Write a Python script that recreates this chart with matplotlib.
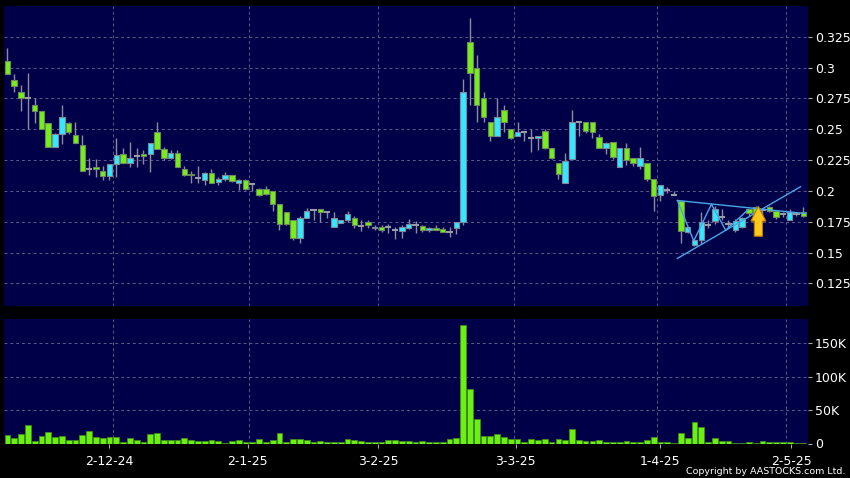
import numpy as np
import matplotlib
matplotlib.use("Agg")
import matplotlib.pyplot as plt
from matplotlib.patches import FancyArrow

# OHLC (one entry per trading day)
opens = [0.305, 0.290, 0.280, 0.275, 0.270, 0.265, 0.255, 0.236, 0.246, 0.255,
         0.245, 0.237, 0.218, 0.219, 0.216, 0.212, 0.222, 0.230, 0.223, 0.228,
         0.230, 0.230, 0.248, 0.234, 0.227, 0.231, 0.218, 0.214, 0.2105, 0.209,
         0.2145, 0.207, 0.210, 0.2125, 0.206, 0.209, 0.2055, 0.2015, 0.2015, 0.200,
         0.189, 0.1825, 0.176, 0.162, 0.178, 0.1845, 0.185, 0.183, 0.171, 0.174,
         0.176, 0.178, 0.1715, 0.175, 0.170, 0.171, 0.1705, 0.168, 0.1675, 0.170,
         0.1725, 0.1715, 0.168, 0.170, 0.169, 0.167, 0.170, 0.1745, 0.3205, 0.300,
         0.275, 0.2555, 0.2445, 0.2655, 0.250, 0.2445, 0.2475, 0.243, 0.2425, 0.2485,
         0.2345, 0.223, 0.206, 0.226, 0.2555, 0.2555, 0.2555, 0.2435, 0.2345, 0.240,
         0.219, 0.2345, 0.227, 0.220, 0.223, 0.210, 0.197, 0.201, 0.197, 0.192,
         0.167, 0.156, 0.160, 0.172, 0.1755, 0.179, 0.1735, 0.168, 0.1705, 0.185,
         0.187, 0.1845, 0.187, 0.1835, 0.1815, 0.1765, 0.1815, 0.1825]
highs = [0.316, 0.295, 0.286, 0.296, 0.275, 0.265, 0.255, 0.247, 0.270, 0.256,
         0.256, 0.245, 0.227, 0.226, 0.220, 0.222, 0.243, 0.235, 0.240, 0.235,
         0.233, 0.239, 0.256, 0.236, 0.233, 0.233, 0.220, 0.216, 0.220, 0.215,
         0.2175, 0.211, 0.215, 0.213, 0.210, 0.210, 0.206, 0.202, 0.204, 0.200,
         0.189, 0.183, 0.176, 0.180, 0.1865, 0.1855, 0.1855, 0.184, 0.1825, 0.176,
         0.1835, 0.180, 0.176, 0.176, 0.172, 0.172, 0.173, 0.171, 0.172, 0.1775,
         0.1755, 0.172, 0.171, 0.172, 0.171, 0.1705, 0.175, 0.291, 0.340, 0.310,
         0.280, 0.2555, 0.275, 0.270, 0.250, 0.2555, 0.2475, 0.250, 0.2445, 0.250,
         0.2345, 0.223, 0.231, 0.2655, 0.2555, 0.2555, 0.2555, 0.246, 0.240, 0.240,
         0.2345, 0.2385, 0.227, 0.236, 0.223, 0.210, 0.2045, 0.203, 0.200, 0.192,
         0.1705, 0.160, 0.183, 0.176, 0.188, 0.185, 0.176, 0.177, 0.179, 0.1855,
         0.188, 0.185, 0.188, 0.184, 0.183, 0.185, 0.183, 0.187]
lows = [0.295, 0.280, 0.265, 0.250, 0.255, 0.250, 0.236, 0.236, 0.238, 0.246,
        0.239, 0.216, 0.213, 0.211, 0.209, 0.209, 0.211, 0.223, 0.219, 0.219,
        0.222, 0.215, 0.234, 0.225, 0.226, 0.219, 0.212, 0.206, 0.206, 0.205,
        0.206, 0.205, 0.208, 0.207, 0.2005, 0.201, 0.1995, 0.196, 0.197, 0.184,
        0.168, 0.172, 0.160, 0.158, 0.178, 0.176, 0.1745, 0.178, 0.171, 0.174,
        0.175, 0.170, 0.1675, 0.170, 0.168, 0.167, 0.166, 0.161, 0.162, 0.169,
        0.166, 0.167, 0.167, 0.168, 0.1665, 0.1625, 0.165, 0.172, 0.270, 0.2555,
        0.2555, 0.2405, 0.2445, 0.248, 0.242, 0.2445, 0.2405, 0.2315, 0.233, 0.234,
        0.2255, 0.2095, 0.206, 0.226, 0.2445, 0.247, 0.243, 0.2345, 0.230, 0.226,
        0.219, 0.221, 0.220, 0.218, 0.208, 0.1835, 0.192, 0.198, 0.1965, 0.158,
        0.166, 0.155, 0.157, 0.170, 0.173, 0.176, 0.170, 0.167, 0.170, 0.180,
        0.176, 0.176, 0.183, 0.177, 0.179, 0.1765, 0.180, 0.179]
closes = [0.295, 0.285, 0.275, 0.275, 0.265, 0.250, 0.236, 0.246, 0.260, 0.248,
          0.239, 0.216, 0.218, 0.218, 0.212, 0.222, 0.229, 0.223, 0.227, 0.228,
          0.228, 0.239, 0.234, 0.227, 0.231, 0.219, 0.213, 0.213, 0.2105, 0.2145,
          0.206, 0.210, 0.2125, 0.208, 0.209, 0.2015, 0.2055, 0.197, 0.1975, 0.189,
          0.173, 0.173, 0.162, 0.178, 0.1835, 0.1845, 0.1825, 0.183, 0.178, 0.176,
          0.181, 0.172, 0.1715, 0.172, 0.171, 0.168, 0.1705, 0.168, 0.171, 0.173,
          0.1725, 0.168, 0.170, 0.1685, 0.167, 0.167, 0.175, 0.280, 0.2955, 0.270,
          0.260, 0.2445, 0.260, 0.2555, 0.2425, 0.2475, 0.2475, 0.243, 0.2445, 0.235,
          0.227, 0.214, 0.224, 0.2555, 0.2555, 0.2485, 0.2475, 0.2345, 0.2385, 0.2275,
          0.2345, 0.225, 0.223, 0.2265, 0.2095, 0.196, 0.2045, 0.201, 0.197, 0.1675,
          0.1705, 0.160, 0.1745, 0.172, 0.185, 0.179, 0.1735, 0.1755, 0.178, 0.182,
          0.1765, 0.1845, 0.1835, 0.179, 0.1815, 0.183, 0.1815, 0.1795]
# volume in thousands of shares
volume_k = [12.5, 8.5, 13.5, 27.5, 3.5, 11.5, 17, 10, 11, 5.5,
            5, 12.5, 18.5, 10, 7.5, 9, 10, 2, 7.5, 4.5,
            2.5, 13.5, 15, 4.5, 4.5, 5, 7.5, 4.5, 3, 3,
            5, 3, 1, 3.5, 5, 2, 2.5, 6.5, 2, 5,
            15, 2, 6.5, 7, 5.5, 1.5, 4, 1.5, 2, 2.5,
            6.5, 4.5, 3.5, 1.5, 1.5, 2, 4.5, 4.5, 3.5, 4,
            1.5, 3.5, 2, 2, 2, 6, 7.5, 177.5, 81.5, 36,
            10.5, 11, 14.5, 9, 6, 6, 2, 7, 5, 6.5,
            2.5, 7, 5, 21, 4.5, 3, 3, 5, 2, 2,
            2, 3, 2.5, 2.5, 4.5, 9.5, 1.5, 1.5, 1, 15,
            8.5, 32, 25, 1.5, 7.5, 3, 3, 1, 1, 2.5,
            1, 3, 1.5, 1.5, 2, 2.5, 1, 1]

date_labels = ["2-12-24", "2-1-25", "3-2-25", "3-3-25", "1-4-25", "2-5-25"]
date_pos = [15.0, 35.3, 54.5, 74.7, 95.9, 115.2]
grid_pos = [15.5, 35.5, 54.5, 74.5, 95.5, 114.5]

price_ticks = [0.125, 0.15, 0.175, 0.2, 0.225, 0.25, 0.275, 0.3, 0.325]
price_labels = ["0.125", "0.15", "0.175", "0.2", "0.225", "0.25", "0.275", "0.3", "0.325"]
vol_ticks = [0, 50000, 100000, 150000]
vol_labels = ["0", "50K", "100K", "150K"]

# drawn pattern: triangle + zigzag
upper_x, upper_y = [98.5, 117.3], [0.1922, 0.1816]
lower_x, lower_y = [98.5, 116.6], [0.1452, 0.2034]
zig_x = [98.5, 100.9, 103.5, 105.6, 108.9]
zig_y = [0.1922, 0.1594, 0.1892, 0.1680, 0.1848]

o = np.array(opens); h = np.array(highs); l = np.array(lows); c = np.array(closes)
vol = np.array(volume_k) * 1000
x = np.arange(len(o))

BG = "#000048"
UP = "#33e8ff"
DOWN = "#77ee1c"
GRID = "#5c5c8c"

fig = plt.figure(figsize=(8.5, 4.78), dpi=100, facecolor="black")
ax = fig.add_axes([4/850, 1-306/478, 803.7/850, 300/478])
axv = fig.add_axes([4/850, 1-443.5/478, 803.7/850, 124.5/478])

for a in (ax, axv):
    a.set_facecolor(BG)
    for s in a.spines.values():
        s.set_visible(False)
    a.set_xlim(-0.5, 117.65)
    a.yaxis.tick_right()
    a.tick_params(axis="y", colors="white", labelsize=9, length=3, pad=2, color="#aaaaaa")
    a.set_xticks(grid_pos, minor=True)
    a.grid(True, which="minor", axis="x", color=GRID, linestyle=(0, (3, 3)), linewidth=0.7)
    a.grid(True, which="major", axis="y", color=GRID, linestyle=(0, (3, 3)), linewidth=0.7)
    a.tick_params(axis="x", which="minor", length=0)
    a.set_axisbelow(True)

# price panel
ax.set_ylim(0.1066, 0.35)
ax.set_yticks(price_ticks)
ax.set_yticklabels(price_labels)
ax.set_xticks([])

up = c > o
down = c < o
flat = c == o
ax.vlines(x, l, h, color="#8c8c9c", linewidth=1, zorder=2)
ax.bar(x[up], (c - o)[up], bottom=o[up], width=0.8, color=UP,
       edgecolor="#7a8a9a", linewidth=0.8, zorder=3)
ax.bar(x[down], (o - c)[down], bottom=c[down], width=0.8, color=DOWN,
       edgecolor="#6a8a5a", linewidth=0.8, zorder=3)
ax.hlines(c[flat], x[flat] - 0.45, x[flat] + 0.45, color="#9a9aa8", linewidth=1.5, zorder=3)

ax.plot(upper_x, upper_y, color="#4aa6e6", linewidth=1, zorder=4)
ax.plot(lower_x, lower_y, color="#4aa6e6", linewidth=1, zorder=4)
ax.plot(zig_x, zig_y, color="#4aa6e6", linewidth=1, zorder=4)

ax.add_patch(FancyArrow(110.4, 0.1632, 0, 0.0243, width=1.2, head_width=2.2,
                        head_length=0.012, length_includes_head=True,
                        facecolor="#ffc81a", edgecolor="#c07a00", linewidth=0.8, zorder=5))

# volume panel
axv.set_ylim(0, 186500)
axv.bar(x, vol, width=0.85, color="#6cf012", edgecolor="#3f8a1a", linewidth=0.6, zorder=3)
axv.set_yticks(vol_ticks)
axv.set_yticklabels(vol_labels)
axv.set_xticks(date_pos)
axv.set_xticklabels(date_labels)
axv.tick_params(axis="x", which="major", colors="white", labelsize=9, length=3,
                pad=5, color="#aaaaaa")

fig.text(845/850, 1-471/478, "Copyright by AASTOCKS.com Ltd.", color="white",
         fontsize=6.8, ha="right", va="center")

fig.savefig("out.png", dpi=100, facecolor="black")
